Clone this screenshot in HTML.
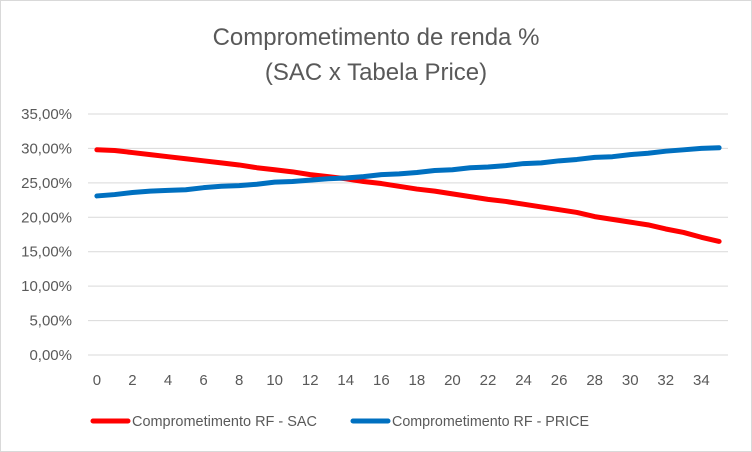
<!DOCTYPE html>
<html><head><meta charset="utf-8"><style>
html,body{margin:0;padding:0;background:#fff}
svg{display:block;font-family:"Liberation Sans",sans-serif}
</style></head><body>
<svg id="chart" width="752" height="452" viewBox="0 0 752 452">
<rect x="0.5" y="0.5" width="751" height="451" fill="#fff" stroke="#d9d9d9"/>
<text x="376" y="45" text-anchor="middle" font-size="24" fill="#595959">Comprometimento de renda %</text>
<text x="376" y="80" text-anchor="middle" font-size="24" fill="#595959">(SAC x Tabela Price)</text>
<g id="grid"></g><g id="yticks"></g><g id="xticks"></g><g id="series"></g>
<g>
<line x1="93" y1="421" x2="128" y2="421" stroke="#ff0000" stroke-width="5" stroke-linecap="round"/>
<text x="132" y="426" font-size="15" fill="#595959" textLength="185" lengthAdjust="spacingAndGlyphs">Comprometimento RF - SAC</text>
<line x1="353" y1="421" x2="388" y2="421" stroke="#0070c0" stroke-width="5" stroke-linecap="round"/>
<text x="392" y="426" font-size="15" fill="#595959" textLength="197" lengthAdjust="spacingAndGlyphs">Comprometimento RF - PRICE</text>
</g>
</svg>
<script>
const categories = Array.from({length:36},(_,i)=>i);
const sacValues = [29.8,29.7,29.4,29.1,28.8,28.5,28.2,27.9,27.6,27.2,26.9,26.6,26.2,25.9,25.6,25.2,24.9,24.5,24.1,23.8,23.4,23.0,22.6,22.3,21.9,21.5,21.1,20.7,20.1,19.7,19.3,18.9,18.3,17.8,17.1,16.5];
const priceValues = [23.1,23.3,23.6,23.8,23.9,24.0,24.3,24.5,24.6,24.8,25.1,25.2,25.4,25.6,25.7,25.9,26.2,26.3,26.5,26.8,26.9,27.2,27.3,27.5,27.8,27.9,28.2,28.4,28.7,28.8,29.1,29.3,29.6,29.8,30.0,30.1];
const yTickValues = [0,5,10,15,20,25,30,35];
const yTickLabels = ["0,00%","5,00%","10,00%","15,00%","20,00%","25,00%","30,00%","35,00%"];

const NS="http://www.w3.org/2000/svg";
const X0=88,X1=728,Y0=355,Y1=114,YMAX=35;
const bw=(X1-X0)/categories.length;
const xs=i=>X0+bw*(i+0.5);
const ys=v=>Y0-(v/YMAX)*(Y0-Y1);
function mk(tag,attrs,parent){const e=document.createElementNS(NS,tag);for(const k in attrs)e.setAttribute(k,attrs[k]);parent.appendChild(e);return e;}
const grid=document.getElementById('grid'),yt=document.getElementById('yticks'),xt=document.getElementById('xticks'),se=document.getElementById('series');
yTickValues.forEach((v,i)=>{
  const l=mk('line',{x1:X0,x2:X1,y1:ys(v),y2:ys(v),stroke:'#d9d9d9','stroke-width':1},grid);
  
  
  const t=mk('text',{x:72,y:ys(v)+5,'text-anchor':'end','font-size':15,fill:'#595959'},yt);
  t.textContent=yTickLabels[i];
  
  
});
categories.forEach((c,i)=>{
  if(c%2!==0)return;
  const t=mk('text',{x:xs(i),y:385,'text-anchor':'middle','font-size':15,fill:'#595959'},xt);
  t.textContent=c;
  
  
});
function line(vals,color,name){
  const p=mk('polyline',{points:vals.map((v,i)=>xs(i)+','+ys(v)).join(' '),fill:'none',stroke:color,'stroke-width':5,'stroke-linecap':'round','stroke-linejoin':'round'},se);
  
  
}
line(sacValues,'#ff0000','sac-line');
line(priceValues,'#0070c0','price-line');
</script>
</body></html>
